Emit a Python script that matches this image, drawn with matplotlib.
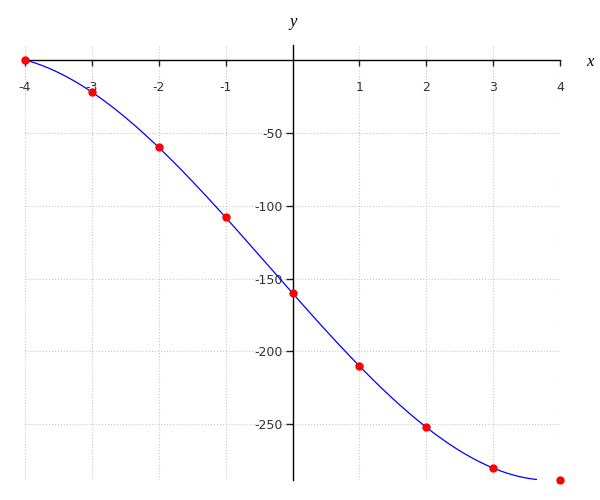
import matplotlib
import numpy as np

matplotlib.use("Agg")
import matplotlib.pyplot as plt

# data points
x_pts = [-4, -3, -2, -1, 0, 1, 2, 3, 4]
y_pts = [0, -22, -60, -108, -160, -210, -252, -280, -288]

x_ticks = [-4, -3, -2, -1, 1, 2, 3, 4]
y_ticks = [-50, -100, -150, -200, -250]

x_range = (-4, 4)
y_range = (-288.2, 10.3)
curve_floor = -287.9  # the curve is cut where it leaves the plot range


def main() -> None:
    fig = plt.figure(figsize=(6, 5), dpi=100)
    ax = fig.add_axes([25 / 600, 20 / 500, 535 / 600, 435 / 500])

    # smooth cubic through the points
    coef = np.polyfit(x_pts, y_pts, 3)
    xs = np.linspace(x_range[0], x_range[1], 500)
    ys = np.polyval(coef, xs)
    keep = np.cumprod(ys >= curve_floor).astype(bool)
    ax.plot(xs[keep], ys[keep], color="blue", linewidth=0.9, zorder=2)
    ax.plot(x_pts, y_pts, "o", color="red", markersize=5, clip_on=False, zorder=3)

    ax.set_xlim(*x_range)
    ax.set_ylim(*y_range)

    # axes crossing at the origin
    ax.spines["left"].set_position(("data", 0))
    ax.spines["bottom"].set_position(("data", 0))
    ax.spines["top"].set_visible(False)
    ax.spines["right"].set_visible(False)
    for s in ("left", "bottom"):
        ax.spines[s].set_linewidth(1.0)
        ax.spines[s].set_zorder(1)

    ax.set_xticks(x_ticks)
    ax.set_yticks(y_ticks)
    ax.tick_params(axis="x", direction="out", length=4, width=1, pad=11, labelsize=9, colors="#222222")
    ax.tick_params(axis="y", direction="out", length=5, width=1, pad=2, labelsize=9, colors="#222222")
    ax.set_xticklabels([str(v) for v in x_ticks], color="#333333")
    ax.set_yticklabels([str(v) for v in y_ticks], color="#333333")

    ax.grid(True, linestyle=":", color="#c8c8c8", linewidth=0.8, zorder=0)
    ax.set_axisbelow(True)

    fig.text(293 / 600, 1 - 22 / 500, "y", family="Liberation Serif", style="italic",
             fontsize=12, ha="center", va="center")
    fig.text(590 / 600, 1 - 62 / 500, "x", family="Liberation Serif", style="italic",
             fontsize=12, ha="center", va="center")

    fig.savefig("out.png", dpi=100)


if __name__ == "__main__":
    main()
